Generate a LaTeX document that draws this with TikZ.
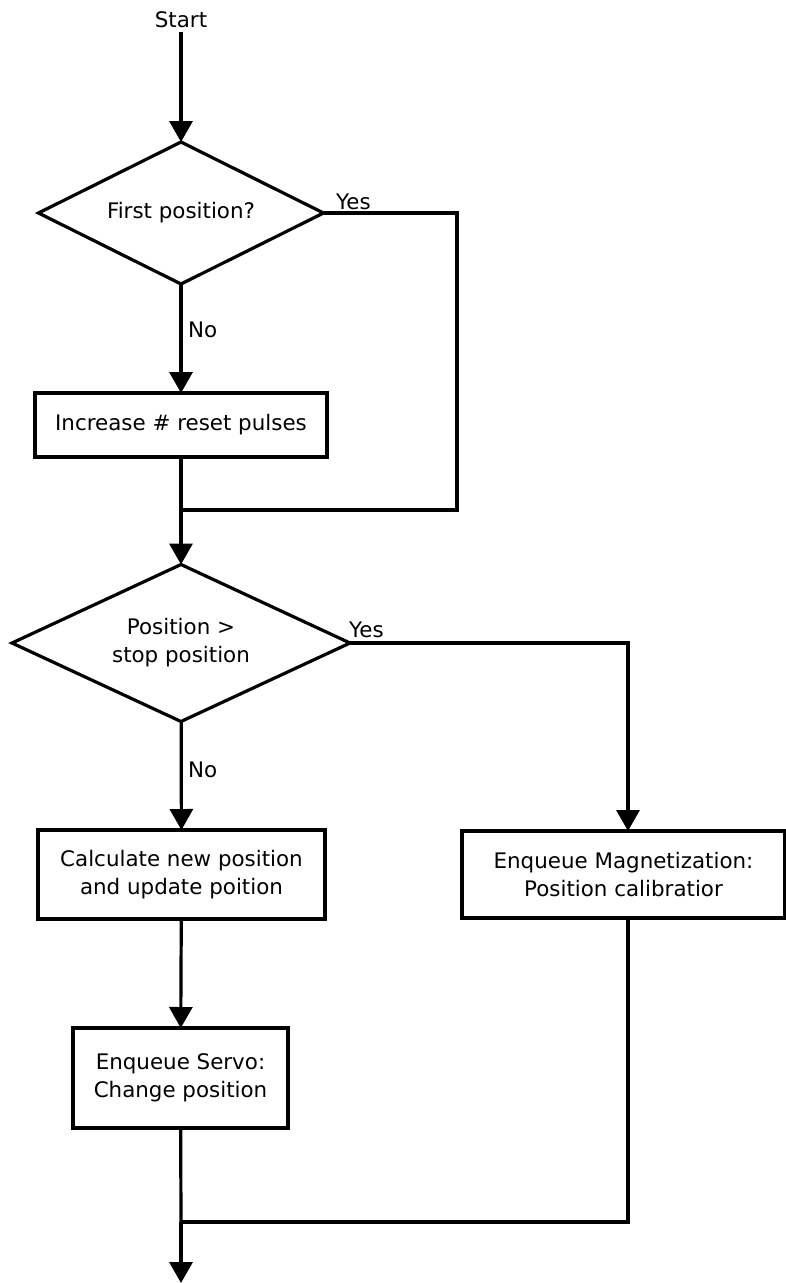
\documentclass[tikz,border=0pt]{standalone}
\usepackage{fontspec}
\setmainfont{DejaVu Sans}
\usetikzlibrary{shapes.geometric,arrows.meta}
\begin{document}
\begin{tikzpicture}[x=1pt,y=-1pt,
  every node/.style={font=\fontsize{21.4}{28}\selectfont},
  flow/.style={line width=3.2pt},
  arr/.style={flow,-{Triangle[width=23pt,length=21pt]}},
  box/.style={draw,line width=3.2pt,rectangle,align=center,inner sep=0pt,outer sep=0pt},
  decision/.style={draw,line width=3.2pt,diamond,align=center,inner sep=0pt,outer sep=0pt},
  lbl/.style={anchor=base west,inner sep=0pt}]
\useasboundingbox (0,0) rectangle (786,1283);

% nodes
\node (start) at (181,20) {Start};
\node[decision, aspect=2, minimum width=285pt, minimum height=142pt] (d1) at (181,213) {First position?};
\node[box, minimum width=292pt, minimum height=64pt] (b1) at (181,425) {Increase \# reset pulses};
\coordinate (m1) at (181,510);
\node[decision, aspect=2.15, minimum width=338pt, minimum height=157pt] (d2) at (181,643) {Position >\\stop position};
\node[box, minimum width=287pt, minimum height=89pt] (b2) at (181.5,874.5) {Calculate new position\\and update poition};
\node[box, minimum width=323pt, minimum height=87pt] (b3) at (623.5,874.5) {Enqueue Magnetization:\\Position calibratior};
\node[box, minimum width=215pt, minimum height=100pt] (b4) at (180.5,1078) {Enqueue Servo:\\Change position};
\coordinate (m2) at (181,1222);
\coordinate (end) at (181,1283);
\coordinate (y1) at (457,213);
\coordinate (y2) at (628,643);

% labels
\node[lbl] (yes1) at (336,209) {Yes};
\node[lbl] (yes2) at (349,637) {Yes};
\node[anchor=west,inner sep=0pt] (no1) at (188,330) {No};
\node[anchor=west,inner sep=0pt] (no2) at (188,770) {No};

% connectors
\draw[arr] (start) -- (d1);
\draw[arr] (d1) -- (b1);
\draw[flow] (d1.east) -- (y1) |- (m1);
\draw[flow] (b1) -- (m1);
\draw[arr] (m1) -- (d2);
\draw[arr] (d2.east) -- (y2) -- (y2 |- b3.north);
\draw[arr] (d2) -- (b2);
\draw[arr] (b2) -- (b4);
\draw[flow] (b3.south -| y2) |- (m2);
\draw[flow] (b4) -- (m2);
\draw[arr] (m2) -- (end);
\end{tikzpicture}
\end{document}
